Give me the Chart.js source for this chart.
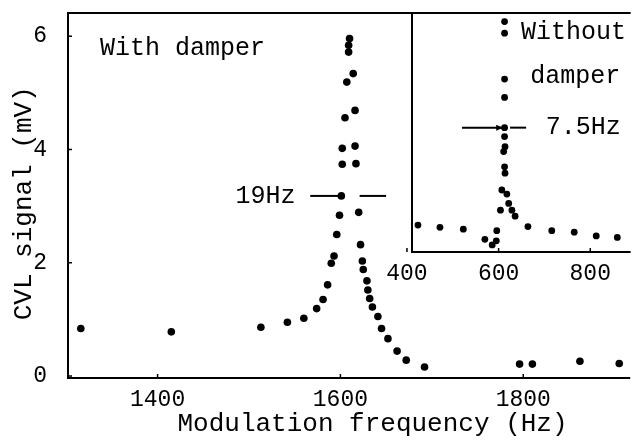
<!DOCTYPE html>
<html>
<head>
<meta charset="utf-8">
<script src="https://cdn.jsdelivr.net/npm/chart.js@4/dist/chart.umd.min.js"></script>
<style>
  body { margin: 0; background: #fff; }
  #wrap { position: relative; width: 634px; height: 441px; }
  #mainchart { position: absolute; left: 0; top: 0; }
  #insetchart { position: absolute; left: 380px; top: 0; }
</style>
</head>
<body>
<div id="wrap">
  <canvas id="mainchart" width="634" height="441"></canvas>
  <canvas id="insetchart" width="254" height="290"></canvas>
</div>
<script>
// with damper (main plot)
const dampedFreq = [1316, 1415, 1513, 1542, 1560, 1574, 1581, 1586, 1590, 1593, 1596, 1599, 1601,
  1602, 1602, 1605, 1609, 1609, 1610, 1607, 1614, 1616, 1616, 1617,
  1620, 1622, 1624, 1625, 1629, 1630, 1632, 1635, 1641, 1645, 1652, 1662, 1672, 1692,
  1796, 1810, 1862, 1905];
const dampedSignal = [0.84, 0.78, 0.86, 0.95, 1.02, 1.19, 1.35, 1.61, 1.99, 2.12, 2.50, 2.84, 3.18,
  3.74, 4.02, 4.56, 5.72, 5.84, 5.96, 5.19, 5.34, 4.06, 4.69, 3.75,
  2.89, 2.32, 2.03, 1.88, 1.68, 1.52, 1.37, 1.22, 1.05, 0.84, 0.66, 0.44, 0.28, 0.16,
  0.21, 0.21, 0.26, 0.22];

// without damper (inset)
const freeFreq = [424, 472, 523, 570, 586, 595, 596, 604, 607, 618,
  613, 613, 613, 613, 613, 613, 614, 611, 613, 614,
  622, 629, 636, 664, 716, 765, 813, 859];
const freeSignal = [0.72, 0.66, 0.61, 0.34, 0.19, 0.30, 0.57, 1.12, 1.66, 1.55,
  6.17, 5.86, 4.63, 4.14, 3.33, 3.09, 2.82, 2.69, 2.28, 2.11,
  1.30, 1.12, 0.96, 0.68, 0.57, 0.53, 0.43, 0.39];

const mainXTicks = [1400, 1600, 1800];
const mainYTicks = [0, 2, 4, 6];
const insetXTicks = [400, 600, 800];

// linewidth markers [from, to, height]
const dampedWidthMarks = [[1567, 1599, 3.18], [1621, 1650, 3.18]];
const freeWidthMarks = [[520, 610, 3.33], [625, 660, 3.33]];

const FONT = '"Liberation Mono", "DejaVu Sans Mono", monospace';

const frame = {
  id: 'frame',
  beforeDraw(chart, args, opts) {
    const { ctx, chartArea: a } = chart;
    if (opts.fill) {
      ctx.save();
      ctx.fillStyle = '#fff';
      ctx.fillRect(a.left, a.top, a.right - a.left, a.bottom - a.top);
      ctx.restore();
    }
  },
  afterDraw(chart, args, opts) {
    const { ctx, chartArea: a, scales } = chart;
    ctx.save();
    ctx.strokeStyle = '#000';
    ctx.lineWidth = 2;
    ctx.beginPath();
    ctx.moveTo(a.right, a.top);
    ctx.lineTo(a.left, a.top);
    ctx.lineTo(a.left, a.bottom);
    ctx.lineTo(a.right, a.bottom);
    ctx.stroke();
    ctx.lineWidth = 1.5;
    scales.x.ticks.forEach((t) => {
      const px = scales.x.getPixelForValue(t.value);
      ctx.beginPath();
      ctx.moveTo(px, a.bottom);
      ctx.lineTo(px, a.bottom - 4);
      ctx.stroke();
    });
    if (opts.yTicks) {
      scales.y.ticks.forEach((t) => {
        const py = scales.y.getPixelForValue(t.value);
        ctx.beginPath();
        ctx.moveTo(a.left, py);
        ctx.lineTo(a.left + 4, py);
        ctx.stroke();
      });
    }
    ctx.restore();
  },
};

const notes = {
  id: 'notes',
  afterDatasetsDraw(chart, args, opts) {
    const { ctx, scales } = chart;
    ctx.save();
    ctx.fillStyle = '#000';
    ctx.strokeStyle = '#000';
    ctx.lineWidth = 2;
    ctx.textBaseline = 'middle';
    ctx.font = opts.size + 'px ' + FONT;
    (opts.texts || []).forEach((n) => {
      ctx.textAlign = n.align || 'left';
      ctx.fillText(n.text, scales.x.getPixelForValue(n.x), scales.y.getPixelForValue(n.y));
    });
    (opts.marks || []).forEach((m, i) => {
      const x0 = scales.x.getPixelForValue(m[0]);
      const x1 = scales.x.getPixelForValue(m[1]);
      const y = scales.y.getPixelForValue(m[2]);
      ctx.beginPath();
      ctx.moveTo(x0, y);
      ctx.lineTo(x1, y);
      ctx.stroke();
      if (opts.arrow && i === 0) {
        ctx.beginPath();
        ctx.moveTo(x1, y);
        ctx.lineTo(x1 - 7, y - 3);
        ctx.lineTo(x1 - 7, y + 3);
        ctx.closePath();
        ctx.fill();
      }
    });
    ctx.restore();
  },
};

const dotStyle = {
  backgroundColor: '#000',
  borderColor: '#000',
  borderWidth: 0,
};

const plain = (v) => String(v);

new Chart(document.getElementById('mainchart'), {
  type: 'scatter',
  data: {
    datasets: [{
      data: dampedFreq.map((f, i) => ({ x: f, y: dampedSignal[i] })),
      ...dotStyle,
      pointRadius: 3.8,
      pointHoverRadius: 3.8,
    }],
  },
  options: {
    responsive: false,
    animation: false,
    events: [],
    layout: { padding: { top: 13, left: 0, right: 0, bottom: 0 } },
    plugins: {
      legend: { display: false },
      tooltip: { enabled: false },
      frame: { fill: false, yTicks: true },
      notes: {
        size: 25,
        texts: [
          { text: 'With damper', x: 1337, y: 5.79 },
          { text: '19Hz', x: 1551, y: 3.18, align: 'right' },
        ],
        marks: dampedWidthMarks,
      },
    },
    scales: {
      x: {
        type: 'linear',
        min: 1302,
        max: 1917,
        border: { display: false },
        grid: { display: false },
        ticks: { color: '#000', padding: 0, callback: plain, font: { family: FONT, size: 23 } },
        afterBuildTicks: (s) => { s.ticks = mainXTicks.map((v) => ({ value: v })); },
        afterFit: (s) => { s.height = 63; s.paddingLeft = 0; s.paddingRight = 0; },
        title: {
          display: true,
          text: '   Modulation frequency (Hz)',
          color: '#000',
          font: { family: FONT, size: 26 },
          padding: { top: 0, bottom: 1 },
        },
      },
      y: {
        type: 'linear',
        min: -0.035,
        max: 6.41,
        border: { display: false },
        grid: { display: false },
        ticks: { color: '#000', padding: 13, callback: plain, font: { family: FONT, size: 23 } },
        afterBuildTicks: (s) => { s.ticks = mainYTicks.map((v) => ({ value: v })); },
        afterFit: (s) => { s.width = 68; s.paddingTop = 0; s.paddingBottom = 0; },
        title: {
          display: true,
          text: 'CVL signal (mV) ',
          color: '#000',
          font: { family: FONT, size: 26 },
          padding: { top: 9, bottom: 0 },
        },
      },
    },
  },
  plugins: [frame, notes],
});

new Chart(document.getElementById('insetchart'), {
  type: 'scatter',
  data: {
    datasets: [{
      data: freeFreq.map((f, i) => ({ x: f, y: freeSignal[i] })),
      ...dotStyle,
      pointRadius: 3.4,
      pointHoverRadius: 3.4,
    }],
  },
  options: {
    responsive: false,
    animation: false,
    events: [],
    layout: { padding: { top: 13, left: 32, right: 0, bottom: 0 } },
    plugins: {
      legend: { display: false },
      tooltip: { enabled: false },
      frame: { fill: true, yTicks: false },
      notes: {
        size: 25,
        arrow: true,
        texts: [
          { text: 'Without', x: 649, y: 5.87 },
          { text: 'damper', x: 669, y: 4.71 },
          { text: '7.5Hz', x: 703, y: 3.33 },
        ],
        marks: freeWidthMarks,
      },
    },
    scales: {
      x: {
        type: 'linear',
        min: 411,
        max: 888,
        border: { display: false },
        grid: { display: false },
        ticks: { color: '#000', padding: 0, callback: plain, font: { family: FONT, size: 23 } },
        afterBuildTicks: (s) => { s.ticks = insetXTicks.map((v) => ({ value: v })); },
        afterFit: (s) => { s.height = 38; s.paddingLeft = 0; s.paddingRight = 0; },
      },
      y: {
        type: 'linear',
        min: 0,
        max: 6.4,
        display: false,
      },
    },
  },
  plugins: [frame, notes],
});
</script>
</body>
</html>
